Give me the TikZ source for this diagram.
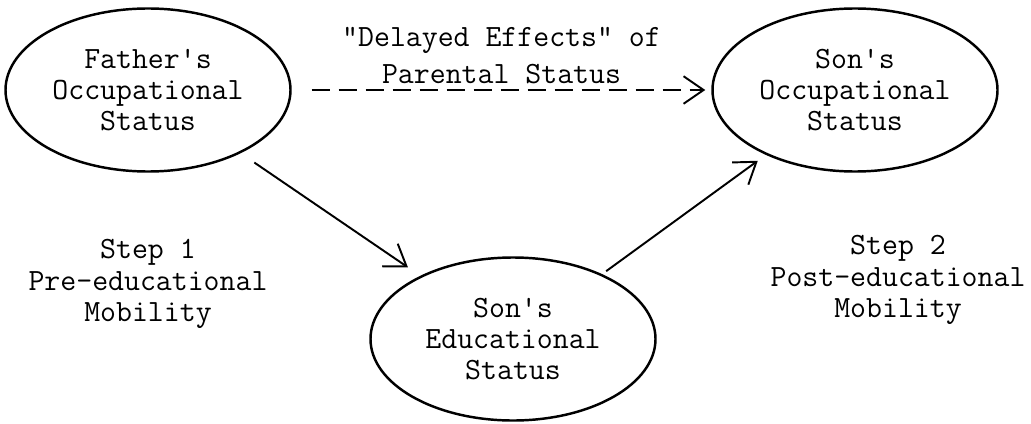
\documentclass[tikz,border=0pt]{standalone}
\usepackage{fontspec}
\setmonofont{Latin Modern Mono}
\usetikzlibrary{shapes.geometric,arrows.meta,positioning}

\tikzset{
  status/.style={ellipse,draw,line width=1.4pt,minimum width=5.7cm,minimum height=3.26cm,inner sep=0pt},
  delayed/.style={dash pattern=on 0.36cm off 0.18cm,shorten <=0.4cm,shorten >=0.12cm}
}

\begin{document}
\begin{tikzpicture}[node distance=3cm,on grid,auto,
    every node/.style={font=\ttfamily\fontsize{17.6}{17.8}\selectfont,align=center},
    >={Straight Barb[length=4mm,width=5.5mm]}]
  \useasboundingbox (-2.96,-6.66) rectangle (17.66,1.8);
  \node[status] (fos) {Father's\\Occupational\\Status};
  \node[status] (sos) [right=14.14cm of fos] {Son's\\Occupational\\Status};
  \node[status] (ses) [below right=4.98cm and 7.3cm of fos] {Son's\\Educational\\Status};
  \node (step_1) [below=3.88cm of fos] {Step 1\\Pre-educational\\Mobility};
  \node (step_2) [below right=3.8cm and 0.86cm of sos] {Step 2\\Post-educational\\Mobility};
  \path[->,line width=1.1pt]
    (fos) edge[delayed] node[inner sep=3pt,font=\ttfamily\fontsize{17.6}{21}\selectfont]
            {"Delayed Effects" of\\Parental Status} (sos)
          edge[shorten <=0.33cm,shorten >=0.3cm] (ses)
    (ses) edge[shorten <=0.1cm,shorten >=0.2cm] (sos);
\end{tikzpicture}
\end{document}
